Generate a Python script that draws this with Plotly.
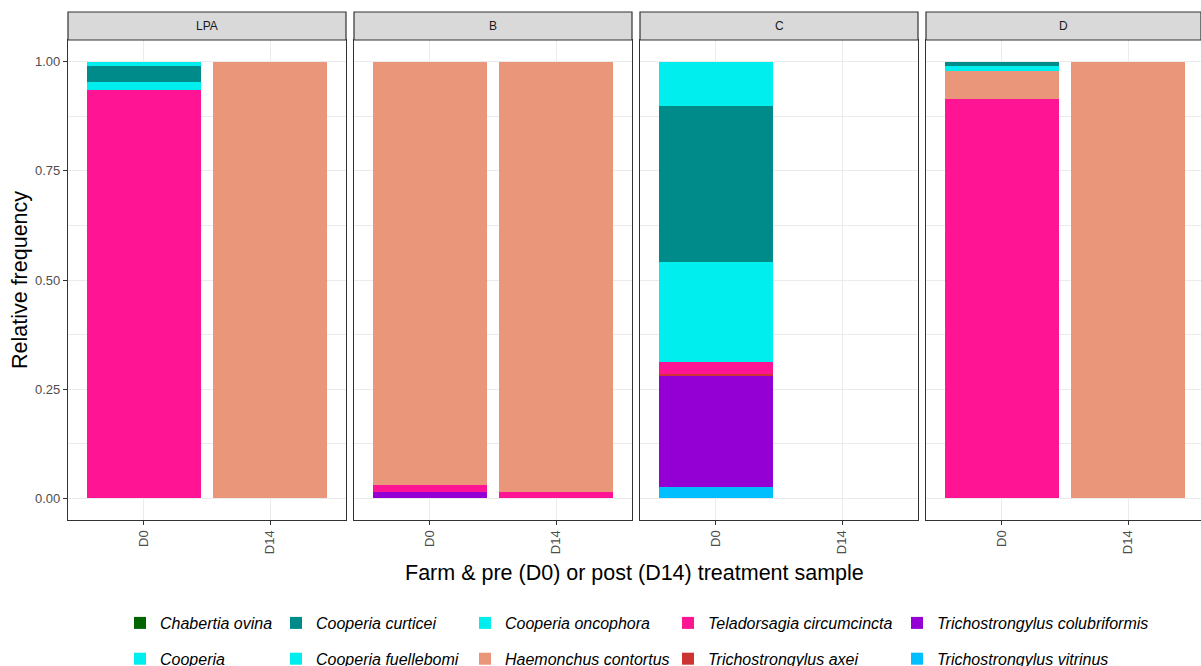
import plotly.graph_objects as go

# ---------------- data ----------------
farms = ["LPA", "B", "C", "D"]
times = ["D0", "D14"]

# values per species, order: LPA D0, LPA D14, B D0, B D14, C D0, C D14, D D0, D D14
chabertia_ovina = [0, 0, 0, 0, 0, None, 0, 0]
cooperia = [0.009, 0, 0, 0, 0.102, None, 0, 0]
cooperia_curticei = [0.038, 0, 0, 0, 0.357, None, 0.009, 0]
cooperia_fuellebomi = [0, 0, 0, 0, 0, None, 0, 0]
cooperia_oncophora = [0.017, 0, 0, 0, 0.229, None, 0.011, 0]
haemonchus_contortus = [0, 1.0, 0.969, 0.985, 0, None, 0.065, 1.0]
teladorsagia_circumcincta = [0.936, 0, 0.017, 0.015, 0.028, None, 0.915, 0]
trichostrongylus_axei = [0, 0, 0, 0, 0.003, None, 0, 0]
trichostrongylus_colubriformis = [0, 0, 0.014, 0, 0.256, None, 0, 0]
trichostrongylus_vitrinus = [0, 0, 0, 0, 0.025, None, 0, 0]

# stacking order: bottom first; (name, values, colour, legend column, legend row)
species = [
    ("Trichostrongylus vitrinus", trichostrongylus_vitrinus, "#00BFFF", "legend5", 2),
    ("Trichostrongylus colubriformis", trichostrongylus_colubriformis, "#9400D3", "legend5", 1),
    ("Trichostrongylus axei", trichostrongylus_axei, "#CD3333", "legend4", 2),
    ("Teladorsagia circumcincta", teladorsagia_circumcincta, "#FF1493", "legend4", 1),
    ("Haemonchus contortus", haemonchus_contortus, "#E9967A", "legend3", 2),
    ("Cooperia oncophora", cooperia_oncophora, "#00EEEE", "legend3", 1),
    ("Cooperia fuellebomi", cooperia_fuellebomi, "#00EEEE", "legend2", 2),
    ("Cooperia curticei", cooperia_curticei, "#008B8B", "legend2", 1),
    ("Cooperia", cooperia, "#00EEEE", "legend", 2),
    ("Chabertia ovina", chabertia_ovina, "#006400", "legend", 1),
]

yticks = [0, 0.25, 0.5, 0.75, 1.0]
ytick_labels = ["0.00", "0.25", "0.50", "0.75", "1.00"]

# ---------------- layout geometry ----------------
# figure is taller than the 666px window; the bottom overflow is hidden
W, H = 1201, 710
ML, MR, MT = 68, 0, 12
MB = H - 520
PW = W - ML - MR
PH = H - MT - MB
panel_px = [(68, 346), (354, 632), (640, 918), (926, 1201)]
unit_px = 278 / 2.2


def px_x(p):
    return (p - ML) / PW


def px_y(p):
    return (H - MB - p) / PH


ytop = px_y(40)
FONT = "Arial, Liberation Sans, sans-serif"
fig = go.Figure()

for fi, farm in enumerate(farms):
    xa = "x" if fi == 0 else f"x{fi+1}"
    ya = "y" if fi == 0 else f"y{fi+1}"
    for name, vals, color, leg, row in species:
        fig.add_trace(go.Bar(
            x=times,
            y=vals[fi * 2: fi * 2 + 2],
            name=f"<i>{name}</i>",
            marker=dict(color=color, line=dict(width=0)),
            xaxis=xa, yaxis=ya,
            legend=leg,
            legendgroup=name,
            legendrank=row * 10,
            showlegend=(fi == 0),
        ))

    x0, x1 = panel_px[fi]
    rng_end = -0.6 + (x1 - x0) / unit_px
    axis_common = dict(
        showline=True, mirror=True, linecolor="#333333", linewidth=1.2,
        gridcolor="#EBEBEB", gridwidth=1.1, zeroline=False,
        ticklen=4, tickcolor="#333333", tickwidth=1, automargin=False,
        tickfont=dict(family=FONT, size=13, color="#4D4D4D"),
    )
    xkey = "xaxis" if fi == 0 else f"xaxis{fi+1}"
    ykey = "yaxis" if fi == 0 else f"yaxis{fi+1}"
    fig.layout[xkey] = dict(
        domain=[px_x(x0), px_x(x1)], anchor=ya,
        type="category", categoryorder="array", categoryarray=times,
        range=[-0.6, rng_end], tickangle=-90, ticks="outside", **axis_common,
    )
    fig.layout[ykey] = dict(
        domain=[0, ytop], anchor=xa,
        range=[-0.05, 1.05], tickvals=yticks, ticktext=ytick_labels,
        minor=dict(tickvals=[0.125, 0.375, 0.625, 0.875], showgrid=True,
                   gridcolor="#EBEBEB", gridwidth=0.6, ticks=""),
        showticklabels=(fi == 0),
        ticks="outside" if fi == 0 else "",
        **axis_common,
    )
    # strip
    fig.add_shape(type="rect", xref="paper", yref="paper",
                  x0=px_x(x0), x1=px_x(x1), y0=ytop, y1=1.0,
                  fillcolor="#D9D9D9", line=dict(color="#333333", width=1.2),
                  layer="above")
    fig.add_annotation(xref="paper", yref="paper",
                       x=(px_x(x0) + px_x(x1)) / 2, y=(ytop + 1) / 2,
                       xanchor="center", yanchor="middle",
                       text=farm, showarrow=False,
                       font=dict(family=FONT, size=12, color="#1A1A1A"))

# axis titles
fig.add_annotation(xref="paper", yref="paper", x=px_x(634), y=px_y(573),
                   xanchor="center", yanchor="middle",
                   text="Farm & pre (D0) or post (D14) treatment sample",
                   showarrow=False, font=dict(family=FONT, size=21.5, color="#000000"))
fig.add_annotation(xref="paper", yref="paper", x=px_x(20), y=px_y(280),
                   xanchor="center", yanchor="middle",
                   text="Relative frequency", textangle=-90, showarrow=False,
                   font=dict(family=FONT, size=21.5, color="#000000"))

# legends (5 columns x 2 rows)
legend_left_px = [120, 276, 465, 668, 897]
leg_common = dict(
    orientation="v", yanchor="top", xanchor="left",
    traceorder="grouped", tracegroupgap=12,
    font=dict(family=FONT, size=16, color="#000000"),
    bgcolor="rgba(0,0,0,0)", itemwidth=30,
)
for i, lp in enumerate(legend_left_px):
    key = "legend" if i == 0 else f"legend{i+1}"
    fig.layout[key] = dict(x=px_x(lp), y=px_y(606), **leg_common)

fig.update_layout(
    width=W, height=H, barmode="stack", bargap=0.1,
    margin=dict(l=ML, r=MR, t=MT, b=MB),
    paper_bgcolor="white", plot_bgcolor="white",
    font=dict(family=FONT),
)

fig.write_html("out.html", config={"displayModeBar": False},
               post_script="document.body.style.margin='0';document.body.style.overflow='hidden';")
